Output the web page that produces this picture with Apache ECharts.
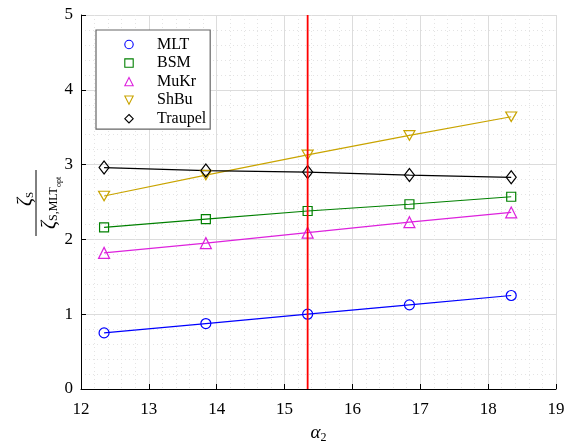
<!DOCTYPE html>
<html>
<head>
<meta charset="utf-8">
<script src="https://cdn.jsdelivr.net/npm/echarts@6/dist/echarts.min.js"></script>
<style>
  html, body { margin: 0; padding: 0; background: #fff; }
  #chart { width: 566px; height: 441px; }
</style>
</head>
<body>
<div id="chart"></div>
<script>
// alpha_2 sample positions
const alpha2 = [12.34, 13.84, 15.34, 16.84, 18.34];

// normalised loss coefficient for each correlation
const mlt     = [0.75, 0.875, 1.00, 1.125, 1.25];
const bsm     = [2.16, 2.27, 2.38, 2.47, 2.57];
const mukr    = [1.82, 1.95, 2.09, 2.23, 2.36];
const shbu    = [2.58, 2.86, 3.13, 3.39, 3.64];
const traupel = [2.96, 2.92, 2.90, 2.86, 2.83];

// design point marker
const alphaOpt = 15.34;

const xTicks = [12, 13, 14, 15, 16, 17, 18, 19];
const yTicks = [0, 1, 2, 3, 4, 5];

const FONT = 'Liberation Serif';

function pairs(vals) {
  return alpha2.map((x, i) => [x, vals[i]]);
}

function lineSeries(name, vals, color, symbol, size) {
  return {
    name: name,
    type: 'line',
    data: pairs(vals),
    symbol: symbol,
    symbolSize: size,
    showSymbol: true,
    lineStyle: { color: color, width: 1.2 },
    itemStyle: { color: 'rgba(255,255,255,0)', borderColor: color, borderWidth: 1.2 },
    emphasis: { disabled: true },
    animation: false,
    z: 3
  };
}

const chart = echarts.init(document.getElementById('chart'), null, { renderer: 'canvas' });

const option = {
  animation: false,
  backgroundColor: '#fff',
  grid: { left: 81, top: 15, right: 10, bottom: 52, containLabel: false, outerBoundsMode: 'none' },
  xAxis: {
    type: 'value',
    min: xTicks[0],
    max: xTicks[xTicks.length - 1],
    interval: 1,
    axisLine: { show: true, onZero: false, lineStyle: { color: '#000', width: 1 } },
    axisTick: { show: true, inside: true, length: 5, lineStyle: { color: '#000' } },
    axisLabel: { color: '#000', fontFamily: FONT, fontSize: 17, margin: 12 },
    splitLine: { show: true, lineStyle: { color: '#dcdcdc', width: 1 } },
    minorTick: { show: false, splitNumber: 5 },
    minorSplitLine: { show: true, lineStyle: { color: '#e4e4e4', width: 1, type: [1, 3] } },
    name: '{a|α}{s|2}',
    nameLocation: 'middle',
    nameGap: 34,
    nameTextStyle: {
      verticalAlign: 'top',
      rich: {
        a: { fontFamily: FONT, fontStyle: 'italic', fontSize: 19, color: '#000', verticalAlign: 'top' },
        s: { fontFamily: FONT, fontSize: 12, color: '#000', verticalAlign: 'top', padding: [9, 0, 0, 0] }
      }
    }
  },
  yAxis: {
    type: 'value',
    min: yTicks[0],
    max: yTicks[yTicks.length - 1],
    interval: 1,
    axisLine: { show: true, onZero: false, lineStyle: { color: '#000', width: 1 } },
    axisTick: { show: true, inside: true, length: 5, lineStyle: { color: '#000' } },
    axisLabel: { color: '#000', fontFamily: FONT, fontSize: 17, margin: 8 },
    splitLine: { show: true, lineStyle: { color: '#dcdcdc', width: 1 } },
    minorTick: { show: false, splitNumber: 5 },
    minorSplitLine: { show: true, lineStyle: { color: '#e4e4e4', width: 1, type: [1, 3] } }
  },
  legend: {
    orient: 'vertical',
    left: 96,
    top: 30,
    padding: [6.5, 4, 2.5, 9],
    itemWidth: 46,
    itemHeight: 10.5,
    itemGap: 2.55,
    backgroundColor: '#fff',
    borderColor: '#666',
    borderWidth: 1.2,
    lineStyle: { opacity: 0 },
    itemStyle: { borderWidth: 1.1 },
    textStyle: { color: '#000', fontFamily: FONT, fontSize: 16, lineHeight: 15 },
    selectedMode: false,
    data: ['MLT', 'BSM', 'MuKr', 'ShBu', 'Traupel']
  },
  series: [
    lineSeries('MLT', mlt, '#0000ff', 'circle', 10),
    lineSeries('BSM', bsm, '#008000', 'rect', 9),
    lineSeries('MuKr', mukr, '#dd22dd', 'triangle', 11),
    lineSeries('ShBu', shbu, '#c9a400', 'path://M0,0L10,0L5,8.66Z', [11, 9.5]),
    lineSeries('Traupel', traupel, '#000000', 'diamond', [10, 13]),
    {
      name: 'alphaOpt',
      type: 'line',
      data: [[alphaOpt, yTicks[0]], [alphaOpt, yTicks[yTicks.length - 1]]],
      symbol: 'none',
      lineStyle: { color: '#ff0000', width: 1.8 },
      itemStyle: { color: '#ff0000' },
      emphasis: { disabled: true },
      silent: true,
      animation: false,
      z: 5
    }
  ],
  graphic: [
    {
      type: 'group',
      x: 36,
      y: 203,
      rotation: Math.PI / 2,
      children: [
        {
          type: 'text',
          x: 4,
          y: -10,
          style: {
            text: '{z|ζ}{s|S}',
            align: 'center',
            verticalAlign: 'middle',
            rich: {
              z: { fontFamily: FONT, fontStyle: 'italic', fontSize: 20, fill: '#000', verticalAlign: 'top' },
              s: { fontFamily: FONT, fontSize: 11, fill: '#000', verticalAlign: 'top', padding: [9, 0, 0, 0] }
            }
          }
        },
        {
          type: 'line',
          shape: { x1: -33, y1: 0, x2: 33, y2: 0 },
          style: { stroke: '#000', lineWidth: 1 }
        },
        {
          type: 'text',
          x: 0,
          y: 15,
          style: {
            text: '{z|ζ}{s|S,MLT}{o|opt}',
            align: 'center',
            verticalAlign: 'middle',
            rich: {
              z: { fontFamily: FONT, fontStyle: 'italic', fontSize: 20, fill: '#000', verticalAlign: 'top' },
              s: { fontFamily: FONT, fontSize: 12, fill: '#000', verticalAlign: 'top', padding: [8, 0, 0, 0] },
              o: { fontFamily: FONT, fontSize: 8, fill: '#000', verticalAlign: 'top', padding: [15, 0, 0, 0] }
            }
          }
        }
      ]
    }
  ]
};

chart.setOption(option);
</script>
</body>
</html>
